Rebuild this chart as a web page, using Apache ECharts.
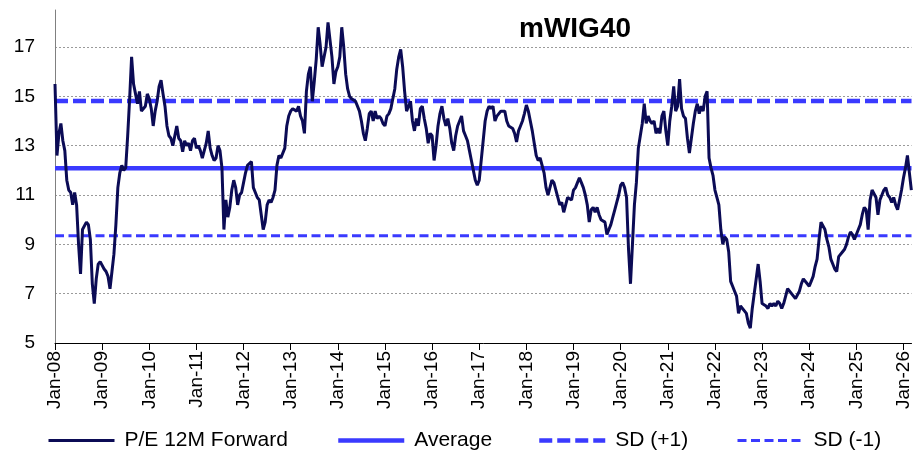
<!DOCTYPE html>
<html>
<head>
<meta charset="utf-8">
<script src="https://cdn.jsdelivr.net/npm/echarts@6/dist/echarts.min.js"></script>
<style>
html,body{margin:0;padding:0;background:#fff;}
#chart{width:913px;height:452px;}
</style>
</head>
<body>
<div id="chart"></div>
<script>
// ---- data (semi-monthly readings, 24 points per year, starting Jan 2008) ----
const startYear = 2008;
const pointsPerYear = 24;
const pe2008 = [15.5, 12.6, 13.5, 13.9, 13.2, 12.8, 11.6, 11.2, 11.1, 10.6, 11.1, 10.6, 9.0, 7.8, 9.6, 9.6, 9.9, 9.8, 9.2, 7.4, 6.6, 7.6, 8.2, 8.3];
const pe2009 = [8.3, 8.0, 7.9, 7.7, 7.2, 7.9, 8.6, 9.8, 11.3, 11.9, 12.2, 12.0, 12.1, 13.4, 14.9, 16.6, 15.5, 15.1, 14.7, 15.2, 14.4, 14.4, 14.6, 15.1];
const pe2010 = [14.9, 14.5, 13.8, 14.4, 14.8, 15.4, 15.65, 15.1, 14.6, 13.8, 13.4, 13.3, 13.0, 13.4, 13.8, 13.3, 13.2, 12.75, 13.2, 13.0, 13.1, 12.8, 13.2, 13.3];
const pe2011 = [12.9, 13.0, 12.8, 12.5, 12.8, 13.1, 13.6, 12.9, 12.6, 12.4, 12.5, 13.0, 12.8, 12.1, 9.6, 10.8, 10.1, 10.5, 11.2, 11.6, 11.3, 10.6, 11.0, 11.1];
const pe2012 = [11.5, 11.9, 12.2, 12.2, 12.35, 11.3, 11.1, 10.9, 10.8, 10.2, 9.6, 9.9, 10.6, 10.8, 10.7, 10.9, 11.2, 12.2, 12.6, 12.5, 12.5, 12.9, 13.8, 14.2];
const pe2013 = [14.4, 14.5, 14.5, 14.4, 14.6, 14.2, 14.0, 13.5, 15.2, 15.9, 16.2, 14.8, 15.6, 16.5, 17.8, 17.1, 16.2, 16.2, 17.0, 18.0, 17.3, 16.6, 15.5, 16.0];
const pe2014 = [16.2, 16.6, 17.8, 17.0, 15.9, 15.3, 15.0, 14.9, 14.9, 14.8, 14.85, 14.4, 14.0, 13.5, 13.2, 13.7, 14.3, 14.4, 14.0, 14.4, 14.1, 14.2, 14.1, 13.9];
const pe2015 = [13.8, 14.2, 14.3, 14.5, 14.9, 15.3, 16.1, 16.6, 16.9, 16.2, 15.2, 14.4, 14.6, 14.8, 14.0, 13.6, 14.1, 13.8, 14.5, 14.6, 14.1, 13.7, 13.1, 13.5];
const pe2016 = [13.4, 12.4, 13.0, 13.8, 14.3, 14.6, 14.1, 13.8, 14.1, 13.7, 13.1, 12.8, 13.4, 13.8, 14.0, 14.2, 13.6, 13.4, 13.2, 12.8, 12.4, 12.0, 11.6, 11.4];
const pe2017 = [11.6, 12.4, 13.2, 14.0, 14.4, 14.6, 14.5, 14.6, 14.0, 14.2, 14.2, 14.4, 14.4, 14.4, 14.0, 13.8, 13.8, 13.7, 13.5, 13.15, 13.6, 13.8, 14.0, 14.3];
const pe2018 = [14.65, 14.4, 14.0, 13.6, 13.1, 12.6, 12.4, 12.5, 12.2, 11.9, 11.3, 11.0, 11.3, 11.6, 11.5, 11.5, 10.9, 10.6, 10.7, 10.3, 10.6, 10.9, 10.9, 10.8];
const pe2019 = [11.2, 11.3, 11.5, 11.7, 11.5, 11.3, 11.0, 10.6, 9.9, 10.4, 10.5, 10.3, 10.5, 10.2, 10.0, 10.0, 9.9, 9.4, 9.6, 9.8, 10.1, 10.4, 10.7, 11.0];
const pe2020 = [11.4, 11.5, 11.3, 10.9, 8.8, 7.4, 9.0, 10.6, 11.5, 12.9, 13.4, 13.9, 14.7, 13.9, 14.2, 14.0, 13.9, 14.0, 13.5, 13.7, 13.5, 14.2, 14.4, 13.6];
const pe2021 = [13.0, 14.0, 14.6, 15.4, 14.4, 14.6, 15.7, 14.5, 14.2, 14.1, 13.3, 12.7, 13.3, 13.9, 14.4, 14.7, 14.3, 14.6, 14.4, 15.0, 15.2, 12.5, 12.1, 11.8];
const pe2022 = [11.2, 10.9, 10.6, 9.6, 9.0, 9.3, 9.2, 8.7, 7.5, 7.3, 7.1, 6.9, 6.2, 6.5, 6.4, 6.3, 6.2, 5.8, 5.6, 6.4, 7.0, 7.6, 8.2, 7.5];
const pe2023 = [6.6, 6.6, 6.5, 6.4, 6.6, 6.5, 6.6, 6.5, 6.7, 6.6, 6.4, 6.6, 6.9, 7.2, 7.2, 7.0, 6.9, 6.8, 6.8, 7.1, 7.4, 7.6, 7.6, 7.4];
const pe2024 = [7.3, 7.5, 7.7, 8.1, 8.4, 9.2, 9.9, 9.9, 9.6, 9.2, 8.9, 8.4, 8.2, 8.0, 7.9, 8.5, 8.5, 8.7, 8.8, 9.0, 9.3, 9.5, 9.4, 9.2];
const pe2025 = [9.4, 9.6, 9.8, 10.2, 10.5, 10.4, 9.6, 10.8, 11.2, 11.2, 10.9, 10.2, 10.8, 11.0, 11.2, 11.3, 11.0, 10.9, 10.7, 10.9, 10.6, 10.4, 10.8, 11.2];
const pe2026 = [11.7, 12.1, 12.6, 11.9, 11.2];

const averageValue = 12.08;
const sdPlusValue = 14.81;
const sdMinusValue = 9.35;

const tickLabels = ['Jan-08','Jan-09','Jan-10','Jan-11','Jan-12','Jan-13','Jan-14','Jan-15','Jan-16','Jan-17','Jan-18','Jan-19','Jan-20','Jan-21','Jan-22','Jan-23','Jan-24','Jan-25','Jan-26'];
const yTickMin = 5, yTickMax = 18.5, yTickStep = 2;
const xMin = 2008, xMax = 2026.17;
const legendNames = ['P/E 12M Forward', 'Average', 'SD (+1)', 'SD (-1)'];
const titleText = 'mWIG40';

// ---- build ----
const peValues = [].concat(pe2008, pe2009, pe2010, pe2011, pe2012, pe2013, pe2014, pe2015, pe2016, pe2017, pe2018, pe2019, pe2020, pe2021, pe2022, pe2023, pe2024, pe2025, pe2026);
const peData = peValues.map((v, i) => [startYear + i / pointsPerYear, v]);
const flat = v => [[xMin, v], [xMax, v]];

const FONT = '"Liberation Sans", Arial, sans-serif';
const NAVY = '#0b0b55';
const BLUE = '#3a3aff';

const styles = {
  pe:    {color: NAVY, width: 3},
  avg:   {color: BLUE, width: 4.5},
  sdp:   {color: BLUE, width: 4.5, type: [13, 5]},
  sdm:   {color: BLUE, width: 3, type: [9, 4.5]}
};

const chart = echarts.init(document.getElementById('chart'), null, {renderer: 'canvas'});
function legendAt(left, name, ls) {
  return {
    left: left, top: 430, itemWidth: 66, itemHeight: 14, padding: 0,
    data: [name],
    itemStyle: {opacity: 0},
    lineStyle: Object.assign({}, ls),
    textStyle: {fontFamily: FONT, fontSize: 21, color: '#000', padding: [0, 0, 0, 5]}
  };
}
chart.setOption({
  animation: false,
  backgroundColor: '#fff',
  title: {
    text: titleText, left: 519, top: 15, padding: 0,
    textStyle: {fontFamily: FONT, fontSize: 28, fontWeight: 'bold', color: '#000'}
  },
  legend: [
    legendAt(47, legendNames[0], styles.pe),
    legendAt(336, legendNames[1], styles.avg),
    legendAt(537, legendNames[2], styles.sdp),
    legendAt(736, legendNames[3], styles.sdm)
  ],
  grid: {left: 55, right: 0, top: 10, bottom: 109, containLabel: false},
  xAxis: {
    type: 'value', min: xMin, max: xMax, interval: 1,
    axisLine: {show: true, lineStyle: {color: '#000', width: 1}},
    axisTick: {show: true, length: 7, lineStyle: {color: '#000'}},
    axisLabel: {
      rotate: 90, margin: 8, fontFamily: FONT, fontSize: 19, color: '#000',
      showMaxLabel: false, showMinLabel: true,
      formatter: v => tickLabels[Math.round(v - startYear)] || ''
    },
    splitLine: {show: false}
  },
  yAxis: {
    type: 'value', min: yTickMin, max: yTickMax, interval: yTickStep,
    axisLine: {show: true, lineStyle: {color: '#808080', width: 1}},
    axisTick: {show: false},
    axisLabel: {margin: 20, fontFamily: FONT, fontSize: 19, color: '#000', showMaxLabel: false},
    splitLine: {show: true, showMinLine: false, showMaxLine: false, lineStyle: {color: '#9a9a9a', width: 1, type: [2, 2]}}
  },
  series: [
    {name: legendNames[1], type: 'line', data: flat(averageValue), symbol: 'none', silent: true,
     lineStyle: styles.avg, itemStyle: {color: BLUE}, z: 2},
    {name: legendNames[2], type: 'line', data: flat(sdPlusValue), symbol: 'none', silent: true,
     lineStyle: styles.sdp, itemStyle: {color: BLUE}, z: 2},
    {name: legendNames[3], type: 'line', data: flat(sdMinusValue), symbol: 'none', silent: true,
     lineStyle: styles.sdm, itemStyle: {color: BLUE}, z: 2},
    {name: legendNames[0], type: 'line', data: peData, symbol: 'none', silent: true,
     lineStyle: styles.pe, itemStyle: {color: NAVY}, z: 3}
  ]
});
</script>
</body>
</html>
